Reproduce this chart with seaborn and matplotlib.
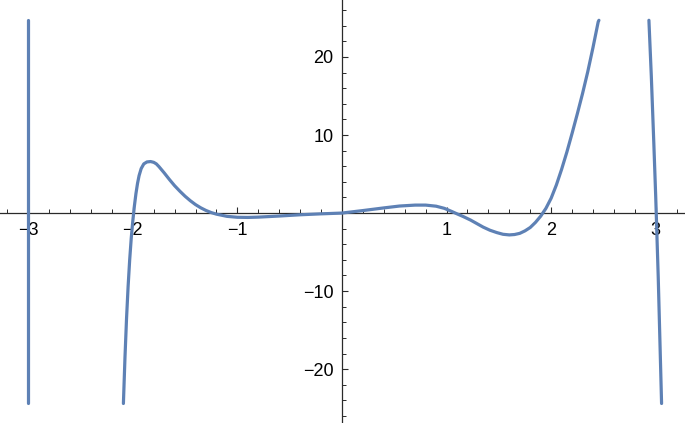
import numpy as np
import pandas as pd
import matplotlib
matplotlib.use("Agg")
import matplotlib.pyplot as plt
import seaborn as sns

# ---- data ----
seg1_x = [-3.0, -3.0]
seg1_y = [24.7, -24.4]

seg2_x = [-2.090, -2.075, -2.060, -2.045, -2.030, -2.015, -2.000, -1.985, -1.970,
          -1.955, -1.940, -1.920, -1.895, -1.865, -1.830, -1.800, -1.775, -1.750,
          -1.700, -1.650, -1.600, -1.550, -1.500, -1.450, -1.400, -1.350, -1.300,
          -1.250, -1.200, -1.100, -1.000, -0.900, -0.800, -0.600, -0.400, -0.200,
          0.000, 0.200, 0.400, 0.550, 0.700, 0.800, 0.900, 0.980, 1.050, 1.100,
          1.160, 1.230, 1.290, 1.350, 1.415, 1.480, 1.540, 1.600, 1.650, 1.700,
          1.750, 1.800, 1.850, 1.900, 1.950, 2.000, 2.050, 2.100, 2.150, 2.200,
          2.250, 2.300, 2.350, 2.400, 2.450, 2.457]
seg2_y = [-24.4, -18.5, -13.5, -9.4, -6.0, -3.2, -1.0, 0.9, 2.5,
          3.8, 4.8, 5.7, 6.3, 6.55, 6.6, 6.5, 6.3, 5.95,
          5.15, 4.3, 3.5, 2.8, 2.15, 1.58, 1.08, 0.67, 0.33,
          0.06, -0.14, -0.42, -0.54, -0.56, -0.52, -0.38, -0.22, -0.1,
          0.0, 0.32, 0.66, 0.9, 1.02, 1.02, 0.88, 0.6, 0.2, -0.1,
          -0.45, -0.9, -1.35, -1.8, -2.2, -2.5, -2.72, -2.8, -2.75, -2.6,
          -2.28, -1.85, -1.2, -0.4, 0.6, 1.9, 3.6, 5.6, 7.8, 10.2,
          12.7, 15.3, 18.1, 21.2, 24.5, 24.7]

seg3_x = [2.935, 2.958, 2.982, 3.000, 3.024, 3.056]
seg3_y = [24.7, 17.5, 8.9, 2.1, -8.2, -24.4]

xtick_values = [-3, -2, -1, 1, 2, 3]
xtick_labels = ["\u22123", "\u22122", "\u22121", "1", "2", "3"]
ytick_values = [-20, -10, 10, 20]
ytick_labels = ["\u221220", "\u221210", "10", "20"]

df = pd.concat([
    pd.DataFrame({"x": seg1_x, "y": seg1_y, "seg": "a"}),
    pd.DataFrame({"x": seg2_x, "y": seg2_y, "seg": "b"}),
    pd.DataFrame({"x": seg3_x, "y": seg3_y, "seg": "c"}),
], ignore_index=True)

sns.set_style("white")
plt.rcParams["font.family"] = ["Liberation Sans", "DejaVu Sans"]

fig = plt.figure(figsize=(6.85, 4.23), dpi=100)
ax = fig.add_axes([0, 0, 1, 1])
ax.patch.set_alpha(0)

sns.lineplot(data=df, x="x", y="y", units="seg", estimator=None, sort=False,
             color="#5E81B5", linewidth=2.3, ax=ax, legend=False)

ax.set_xlim(-3.27, 3.28)
ax.set_ylim(-26.9, 27.3)

for s in ["top", "right"]:
    ax.spines[s].set_visible(False)
ax.spines["left"].set_position(("data", 0))
ax.spines["bottom"].set_position(("data", 0))
axis_col = "#2a2a2a"
for s in ["left", "bottom"]:
    ax.spines[s].set_color(axis_col)
    ax.spines[s].set_linewidth(0.9)
    ax.spines[s].set_zorder(1)

ax.set_xticks(xtick_values)
ax.set_xticklabels(xtick_labels)
ax.set_yticks(ytick_values)
ax.set_yticklabels(ytick_labels)
ax.set_xticks([v for v in np.round(np.arange(-3.2, 3.21, 0.2), 1) if abs(v - round(v)) > 1e-6], minor=True)
ax.set_yticks([v for v in range(-26, 27, 2) if v % 10 != 0], minor=True)

ax.tick_params(bottom=True, left=True, top=False, right=False, which="both")
ax.tick_params(axis="both", which="major", direction="in", length=4.5, width=0.8,
               color=axis_col, labelsize=13, labelcolor="black")
ax.tick_params(axis="both", which="minor", direction="in", length=2.8, width=0.7,
               color=axis_col)
ax.tick_params(axis="x", which="major", pad=6.5)
ax.tick_params(axis="y", which="major", pad=6)
ax.set_xlabel("")
ax.set_ylabel("")

fig.savefig("out.png", dpi=100)
